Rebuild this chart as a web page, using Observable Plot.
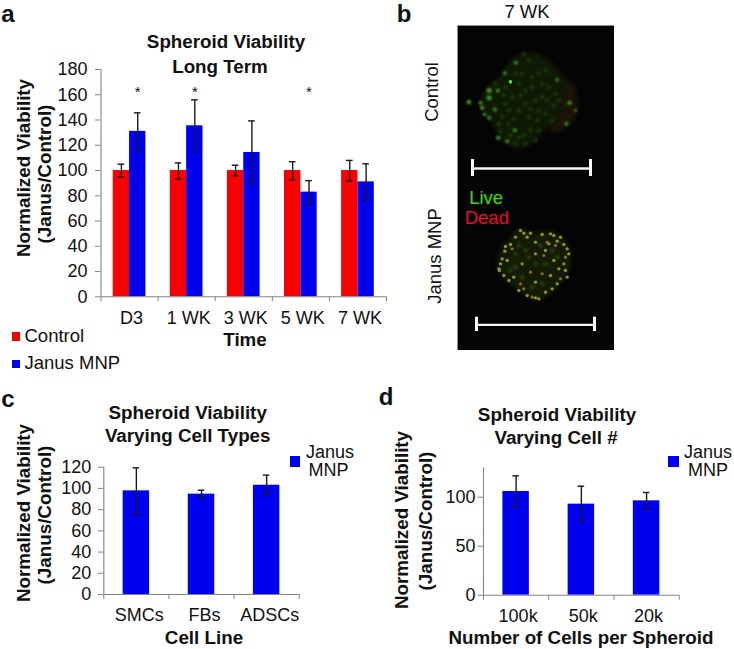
<!DOCTYPE html>
<html>
<head>
<meta charset="utf-8">
<script src="https://cdn.jsdelivr.net/npm/d3@7"></script>
<script src="https://cdn.jsdelivr.net/npm/@observablehq/plot@0.6"></script>
<style>
html,body{margin:0;padding:0;background:#fff}
#page{position:relative;width:734px;height:649px;overflow:hidden;font-family:"Liberation Sans",Arial,sans-serif;color:#111}
#page svg{position:absolute;background:transparent;max-width:none}
.t{position:absolute;white-space:nowrap;line-height:0.85;transform:translate(-50%,-50%)}
.l{position:absolute;white-space:nowrap;line-height:0.9;transform:translateY(-50%)}
.sw{position:absolute;background:#0000f0}
</style>
</head>
<body>
<div id="page"></div>
<script>
// Panel a
const times = ["D3","1 WK","3 WK","5 WK","7 WK"];
const controlValues = [100,100,100,100,100];
const controlHigh = [105,106,104.2,107,108];
const controlLow = [95,93.4,95.8,92.6,91.6];
const janusValues = [131,135.4,114.3,82.9,91];
const janusHigh = [145.7,156,139.3,92,105.3];
const janusLow = [115.6,114.8,89.7,73.6,77];
const significant = ["D3","1 WK","5 WK"];
// Panel c
const cellLines = ["SMCs","FBs","ADSCs"];
const cellLineValues = [97.7,94.6,103];
const cellLineHigh = [119.4,98.3,112.5];
const cellLineLow = [75.4,91.1,93.6];
// Panel d
const cellCounts = ["100k","50k","20k"];
const cellCountValues = [105.8,92.9,96.3];
const cellCountHigh = [121.8,111.2,104.8];
const cellCountLow = [89.8,75.2,88.1];
// Panel b: micrograph features
const controlOutline = [[200,38],[250,42],[290,70],[320,110],[335,150],[320,210],[300,240],[260,275],[230,310],[190,325],[150,310],[125,280],[105,240],[80,205],[85,170],[100,140],[130,110],[150,80],[170,55]];
const controlLobe = [[310,110],[350,130],[365,190],[360,225],[335,260],[285,272],[270,200]];
const controlLeftHaze = [[85,165],[130,120],[150,190],[120,240],[85,205]];
const controlSpots = [[181,67,2],[101,150,2.6],[101,172,2.6],[127,150,2],[40,185,2.4],[75,187,2],[80,202,2.2],[87,222,1.8],[101,232,2],[118,207,2],[178,269,2],[128,292,2.2],[155,302,2],[333,250,2],[342,187,2.2],[360,210,1.6],[305,118,1.8],[148,98,1.8]];
const controlBright = [[165,124,1.8]];
const controlDim = [[140,228],[160,250],[135,272],[190,290],[225,270],[250,270],[205,40],[295,195],[210,150],[240,180],[190,210],[260,130],[230,110],[170,170],[200,100],[280,140],[270,220],[220,230],[180,310],[210,310],[245,240],[150,190],[120,130],[150,140],[220,60],[270,90],[300,160],[190,130],[230,140],[260,170],[160,210],[210,190],[250,210],[290,240],[130,250],[240,300],[205,285],[165,285],[175,235],[145,165],[195,165],[225,205],[275,180],[310,180],[250,100],[180,100]];
const janusOutline = [[100,25],[150,35],[200,30],[240,60],[255,100],[250,150],[225,190],[190,225],[150,240],[100,210],[60,180],[35,140],[45,90],[70,55]];
const janusSpots = [[105,30],[115,38],[170,42],[205,45],[215,62],[235,72],[250,100],[235,130],[220,145],[245,170],[215,190],[160,235],[150,232],[100,210],[40,145],[50,115],[58,92],[75,72],[125,50],[150,100],[190,70],[180,90],[205,120],[150,185],[65,120],[110,130],[85,170],[195,165],[150,65],[125,225],[135,38],[90,50],[180,215],[70,180],[45,130],[60,78],[42,150],[55,165],[195,40],[225,50],[245,85],[240,150],[200,205]];
const janusOrange = [[135,155],[185,65],[175,105],[225,175],[140,230],[105,190],[170,160],[80,85],[240,110],[210,75],[115,205]];
const janusDim = [[90,100],[120,90],[150,130],[110,170],[180,130],[140,200],[90,140],[200,90],[170,190],[130,110],[75,150],[215,110],[100,75],[165,75]];
const scaleBars = [{row:"Control",left:45,right:399,level:429,up:27,down:24},{row:"Janus MNP",left:57,right:411,level:898,up:23,down:20}];

const fontFamily = '"Liberation Sans",Arial,sans-serif';
const axisGray = "#858585";
const red = "#fb0000", blue = "#0000f0", whisker = "#1a1a1a";
const page = document.getElementById("page");
const boldSize = 18.8, textSize = 18.5;

function place(plot, left, top){ plot.style.left = left+"px"; plot.style.top = top+"px"; page.appendChild(plot); }
function label(text, x, y, size, bold, rot){
  const d = document.createElement("div"); d.className="t"; d.textContent=text;
  d.style.left=x+"px"; d.style.top=y+"px"; d.style.fontSize=size+"px";
  if(bold) d.style.fontWeight="700";
  if(rot) d.style.transform="translate(-50%,-50%) rotate(-90deg)";
  page.appendChild(d);
}
function swatch(x,y,w,h,c){
  const d=document.createElement("div"); d.className="sw";
  d.style.cssText=`left:${x}px;top:${y}px;width:${w}px;height:${h}px;background:${c}`;
  page.appendChild(d);
}
function leftLabel(text,x,y,size){
  const d=document.createElement("div"); d.className="l"; d.textContent=text;
  d.style.left=x+"px"; d.style.top=y+"px"; d.style.fontSize=size+"px"; page.appendChild(d);
}

function whiskers(rows, half){
  return [
    Plot.ruleX(rows,{x:"c",y1:"lo",y2:"hi",stroke:whisker,strokeWidth:1.4}),
    Plot.ruleY(rows,{y:"hi",x1:d=>d.c-half,x2:d=>d.c+half,stroke:whisker,strokeWidth:1.4}),
    Plot.ruleY(rows,{y:"lo",x1:d=>d.c-half,x2:d=>d.c+half,stroke:whisker,strokeWidth:1.4})
  ];
}
function axes(names, yTicks, labelDx, yPadding){
  const n = names.length;
  return [
    Plot.axisY({ticks:yTicks,tickSize:5.5,tickPadding:yPadding,stroke:axisGray,fill:"#111",label:null,tickFormat:d=>d}),
    Plot.axisX({ticks:d3.range(n+1),tickSize:5,tickFormat:()=>"",stroke:axisGray,label:null}),
    Plot.axisX({ticks:d3.range(n).map(i=>i+0.5),tickSize:0,tickPadding:14,dx:labelDx,fill:"#111",label:null,tickFormat:d=>names[d-0.5]}),
    Plot.ruleY([0],{stroke:axisGray,strokeWidth:1.1}),
    Plot.ruleX([0],{stroke:axisGray,strokeWidth:1.1})
  ];
}

// ---- panel a
const aControl = times.map((t,i)=>({t,x1:i+0.5-0.286,x2:i+0.5,c:i+0.5-0.143,v:controlValues[i],hi:controlHigh[i],lo:controlLow[i]}));
const aJanus = times.map((t,i)=>({t,x1:i+0.5,x2:i+0.5+0.286,c:i+0.5+0.143,v:janusValues[i],hi:janusHigh[i],lo:janusLow[i]}));
place(Plot.plot({
  width:400,height:360,marginLeft:100.5,marginRight:14,marginTop:69,marginBottom:63.7,
  style:{fontFamily,fontSize:"18px",background:"transparent"},
  x:{type:"linear",domain:[0,5]},y:{domain:[0,180]},
  marks:[
    Plot.rectY(aControl,{x1:"x1",x2:"x2",y1:0,y2:"v",fill:red}),
    Plot.rectY(aJanus,{x1:"x1",x2:"x2",y1:0,y2:"v",fill:blue}),
    ...whiskers(aControl,0.058),...whiskers(aJanus,0.058),
    Plot.text(aJanus.filter(d=>significant.includes(d.t)),{x:"c",y:()=>162,text:()=>"*",fontSize:15,fill:"#111"}),
    ...axes(times,d3.range(0,181,20),2,8)
  ]
}),0,0);

// ---- panel c
const cRows = cellLines.map((n,i)=>({n,x1:i+0.5-0.203,x2:i+0.5+0.203,c:i+0.5,v:cellLineValues[i],hi:cellLineHigh[i],lo:cellLineLow[i]}));
place(Plot.plot({
  width:340,height:269,marginLeft:103.3,marginRight:41.3,marginTop:86.7,marginBottom:55,
  style:{fontFamily,fontSize:"18px",background:"transparent"},
  x:{type:"linear",domain:[0,3]},y:{domain:[0,120]},
  marks:[
    Plot.rectY(cRows,{x1:"x1",x2:"x2",y1:0,y2:"v",fill:blue}),
    ...whiskers(cRows,0.05),
    ...axes(cellLines,d3.range(0,121,20),3,7)
  ]
}),0,380);

// ---- panel d
const dRows = cellCounts.map((n,i)=>({n,x1:i+0.5-0.203,x2:i+0.5+0.203,c:i+0.5,v:cellCountValues[i],hi:cellCountHigh[i],lo:cellCountLow[i]}));
place(Plot.plot({
  width:317,height:269,marginLeft:116,marginRight:5.3,marginTop:87.3,marginBottom:54.3,
  style:{fontFamily,fontSize:"18px",background:"transparent"},
  x:{type:"linear",domain:[0,3]},y:{domain:[0,130]},
  marks:[
    Plot.rectY(dRows,{x1:"x1",x2:"x2",y1:0,y2:"v",fill:blue}),
    ...whiskers(dRows,0.05),
    ...axes(cellCounts,[0,50,100],2,2.5)
  ]
}),367,380);

// ---- panel b (coordinates are micrograph pixels; crops are shifted to a common frame)
const ctl = p=>({x:p[0]-6,y:p[1]+45,r:p[2]});
const jan = p=>({x:p[0]+84,y:p[1]+585});
place(Plot.plot({
  width:157,height:325,margin:0,
  style:{fontFamily,fontSize:"18px",background:"transparent"},
  x:{axis:null,domain:[0,471]},y:{axis:null,domain:[975,0]},
  r:{type:"identity"},
  marks:[
    Plot.frame({fill:"#040404",stroke:"#9a9a9a",strokeWidth:0.6}),
    Plot.line(controlLobe.map(ctl),{x:"x",y:"y",fill:"#1e1407",stroke:null,curve:"catmull-rom-closed",imageFilter:"blur(2.5px)"}),
    Plot.line(controlLeftHaze.map(ctl),{x:"x",y:"y",fill:"#221507",stroke:null,curve:"catmull-rom-closed",imageFilter:"blur(2px)"}),
    Plot.line(controlOutline.map(ctl),{x:"x",y:"y",fill:"#0f1a06",stroke:null,curve:"catmull-rom-closed",imageFilter:"blur(2px)"}),
    Plot.dot(controlDim.map(ctl),{x:"x",y:"y",r:2.2,fill:"#1d360c",imageFilter:"blur(1px)"}),
    Plot.dot(controlSpots.map(ctl),{x:"x",y:"y",r:"r",fill:"#3c9424",imageFilter:"blur(0.9px)"}),
    Plot.dot(controlBright.map(ctl),{x:"x",y:"y",r:"r",fill:"#4bf02a",imageFilter:"blur(0.5px)"}),
    Plot.line(janusOutline.map(jan),{x:"x",y:"y",fill:"#141c06",stroke:null,curve:"catmull-rom-closed",imageFilter:"blur(2px)"}),
    Plot.dot(janusDim.map(jan),{x:"x",y:"y",r:2.2,fill:"#28420c",imageFilter:"blur(1px)"}),
    Plot.dot(janusSpots.map(jan),{x:"x",y:"y",r:1.7,fill:"#8a9620",imageFilter:"blur(0.7px)"}),
    Plot.dot(janusOrange.map(jan),{x:"x",y:"y",r:1.6,fill:"#8f6a18",imageFilter:"blur(0.7px)"}),
    Plot.ruleY(scaleBars,{y:"level",x1:"left",x2:"right",stroke:"#f4f4f4",strokeWidth:2.4}),
    Plot.ruleX(scaleBars,{x:"left",y1:d=>d.level-d.up,y2:d=>d.level+d.down,stroke:"#fff",strokeWidth:3}),
    Plot.ruleX(scaleBars,{x:"right",y1:d=>d.level-d.up,y2:d=>d.level+d.down,stroke:"#fff",strokeWidth:3}),
    Plot.text(["Live"],{x:()=>86,y:()=>519,text:d=>d,fill:"#35e000",fontSize:18.5}),
    Plot.text(["Dead"],{x:()=>88,y:()=>579,text:d=>d,fill:"#ee0a2c",fontSize:18.5})
  ]
}),457,25);

// ---- text
label("a",8,14,24,true); label("b",404,14,24,true); label("c",8,399,24,true); label("d",386,397,24,true);

label("Spheroid Viability",226,41.5,boldSize,true); label("Long Term",220,66.5,boldSize,true);
label("Normalized Viability",23.5,168,boldSize,true,true); label("(Janus/Control)",45,174,boldSize,true,true);
label("Time",245,340,boldSize,true);
swatch(11.5,332,8.5,8.5,red); swatch(11.5,359.5,8.5,8.5,blue);
leftLabel("Control",24.5,335.5,textSize); leftLabel("Janus MNP",24.5,362.5,textSize);

label("7 WK",527,12,18.5); label("Control",432,92,18.5,false,true); label("Janus MNP",435,256,18.5,false,true);

label("Spheroid Viability",187.7,412.5,boldSize,true); label("Varying Cell Types",187.7,436,boldSize,true);
label("Normalized Viability",23.5,513,boldSize,true,true); label("(Janus/Control)",45,515,boldSize,true,true);
label("Cell Line",204,638,boldSize,true);
swatch(289.5,456,10.5,10.5,blue); label("Janus",330,452.5,18); label("MNP",328.5,471,18);

label("Spheroid Viability",557,415,boldSize,true); label("Varying Cell #",556,438,boldSize,true);
label("Normalized Viability",402,520,boldSize,true,true); label("(Janus/Control)",426,521,boldSize,true,true);
label("Number of Cells per Spheroid",581,638,boldSize,true);
swatch(668,456,10.5,10.5,blue); label("Janus",708,452.5,18); label("MNP",708,471,18);
</script>
</body>
</html>
